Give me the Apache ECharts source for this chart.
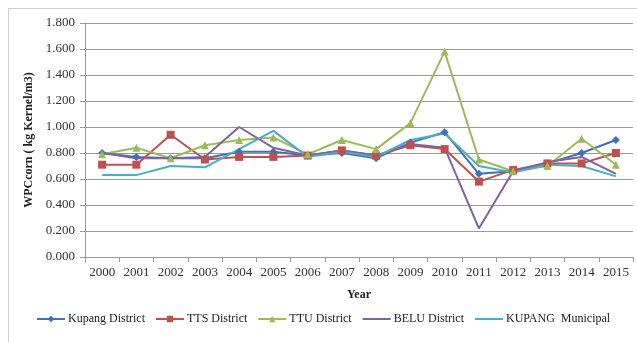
<!DOCTYPE html>
<html>
<head>
<meta charset="utf-8">
<script src="https://cdn.jsdelivr.net/npm/echarts@6/dist/echarts.min.js"></script>
<style>
  html, body { margin: 0; padding: 0; background: #fff; }
  #chart { width: 637px; height: 342px; }
  .frame { position: absolute; left: 8px; top: 8px; width: 640px; height: 340px; border: 1px solid #d0d0d0; box-sizing: border-box; pointer-events: none; }
</style>
</head>
<body>
<div class="frame"></div>
<div id="chart"></div>
<script>
  const years = ["2000", "2001", "2002", "2003", "2004", "2005", "2006", "2007",
    "2008", "2009", "2010", "2011", "2012", "2013", "2014", "2015"];

  const kupangDistrict = [0.80, 0.77, 0.76, 0.76, 0.81, 0.81, 0.78, 0.80, 0.76, 0.88, 0.96, 0.64, 0.66, 0.72, 0.80, 0.90];
  const ttsDistrict = [0.71, 0.71, 0.94, 0.75, 0.77, 0.77, 0.78, 0.82, 0.78, 0.86, 0.83, 0.58, 0.67, 0.72, 0.72, 0.80];
  const ttuDistrict = [0.79, 0.84, 0.76, 0.86, 0.90, 0.92, 0.79, 0.90, 0.83, 1.03, 1.58, 0.75, 0.66, 0.70, 0.91, 0.71];
  const beluDistrict = [0.80, 0.76, 0.76, 0.77, 1.00, 0.84, 0.78, 0.82, 0.78, 0.87, 0.84, 0.22, 0.66, 0.73, 0.77, 0.64];
  const kupangMunicipal = [0.63, 0.63, 0.70, 0.69, 0.83, 0.97, 0.77, 0.81, 0.77, 0.90, 0.95, 0.70, 0.65, 0.71, 0.70, 0.62];

  const names = ["Kupang District", "TTS District", "TTU District", "BELU District", "KUPANG  Municipal"];

  const font = "Liberation Serif";
  const myChart = echarts.init(document.getElementById("chart"));

  const mk = (name, data, color, symbol, size) => ({
    name, data, type: "line",
    symbol, symbolSize: size,
    lineStyle: { width: 2, color },
    itemStyle: { color },
  });

  const option = {
    animation: false,
    grid: { left: 85, right: 4, top: 23, bottom: 85 },
    legend: {
      top: 308, left: 31,
      itemGap: 10, itemWidth: 28, itemHeight: 8,
      textStyle: { fontFamily: font, fontSize: 12, color: "#222", padding: [0, 0, 0, -2] },
      data: [
        names[0], names[1], names[2],
        // no marker on these two, only the line
        { name: names[3], itemStyle: { opacity: 0 } },
        { name: names[4], itemStyle: { opacity: 0 } },
      ],
    },
    xAxis: {
      type: "category", data: years,
      name: "Year", nameLocation: "middle", nameGap: 32,
      nameTextStyle: { fontFamily: font, fontSize: 12, fontWeight: "bold", color: "#222" },
      axisLine: { lineStyle: { color: "#999" } },
      axisTick: { show: true, lineStyle: { color: "#999" } },
      axisLabel: { fontFamily: font, fontSize: 13, color: "#333", margin: 9 },
    },
    yAxis: {
      type: "value", min: 0, max: 1.8, interval: 0.2,
      name: "WPCcorn ( kg Kernel/m3)", nameLocation: "middle", nameGap: 50,
      nameTextStyle: { fontFamily: font, fontSize: 12, fontWeight: "bold", color: "#222" },
      axisLine: { show: true, lineStyle: { color: "#999" } },
      axisTick: { show: true, lineStyle: { color: "#999" } },
      axisLabel: { fontFamily: font, fontSize: 13, color: "#333", margin: 10, formatter: (v) => v.toFixed(3) },
      splitLine: { lineStyle: { color: "#999" } },
    },
    series: [
      mk(names[0], kupangDistrict, "#3f72b4", "diamond", 8),
      mk(names[1], ttsDistrict, "#c0504d", "rect", 8),
      mk(names[2], ttuDistrict, "#9bbb59", "triangle", 8),
      mk(names[3], beluDistrict, "#7e63a0", "none", 6),
      mk(names[4], kupangMunicipal, "#4bacc6", "none", 6),
    ],
  };
  myChart.setOption(option);
</script>
</body>
</html>
